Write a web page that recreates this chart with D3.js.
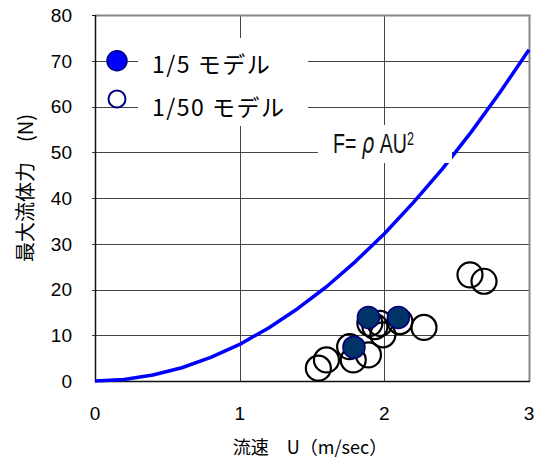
<!DOCTYPE html>
<html>
<head>
<meta charset="utf-8">
<script src="https://cdn.jsdelivr.net/npm/d3@7"></script>
<style>
  body { margin: 0; background: #fff; }
  svg { display: block; }
  text { white-space: pre; }
</style>
</head>
<body>
<div id="chart"></div>
<script>
// Data
const curveU = [0, 0.2, 0.4, 0.6, 0.8, 1.0, 1.2, 1.4, 1.6, 1.8, 2.0, 2.2, 2.4, 2.6, 2.8, 3.0];
const curveF = [0, 0.32, 1.3, 2.9, 5.15, 8.0, 11.6, 15.8, 20.6, 26.1, 32.2, 39.0, 46.3, 54.4, 63.1, 72.4];

const model50U = [1.544, 1.60, 1.785, 1.89, 1.76, 1.99, 1.935, 1.97, 1.90, 2.108, 2.274, 2.592, 2.689];
const model50F = [2.8, 4.6, 4.6, 5.7, 7.5, 10.1, 11.9, 12.6, 12.6, 13.0, 11.7, 23.2, 21.8];

const model5U = [1.79, 1.89, 2.097];
const model5F = [7.4, 13.9, 13.9];

const xTicks = [0, 1, 2, 3];
const yTicks = [0, 10, 20, 30, 40, 50, 60, 70, 80];
const legendLabels = ['1/5 モデル', '1/50 モデル'];

// Layout
const width = 542;
const height = 461;
const plotLeft = 95, plotRight = 529, plotTop = 15, plotBottom = 381;
const jpFont = '"Noto Sans CJK JP", sans-serif';
const numFont = '"Liberation Sans", Arial, sans-serif';

const x = d3.scaleLinear().domain([0, 3]).range([plotLeft, plotRight]);
const y = d3.scaleLinear().domain([0, 80]).range([plotBottom, plotTop]);

const svg = d3.select('#chart').append('svg')
  .attr('width', width)
  .attr('height', height);

// Grid
const grid = svg.append('g')
  .attr('stroke', '#444')
  .attr('stroke-width', 1);
yTicks.filter(d => d > 0 && d < 80).forEach(d => {
  grid.append('line')
    .attr('x1', plotLeft - 3).attr('x2', plotRight)
    .attr('y1', Math.round(y(d)) + 0.5).attr('y2', Math.round(y(d)) + 0.5);
});
xTicks.filter(d => d > 0 && d < 3).forEach(d => {
  grid.append('line')
    .attr('x1', Math.round(x(d)) + 0.5).attr('x2', Math.round(x(d)) + 0.5)
    .attr('y1', plotTop).attr('y2', plotBottom);
});

// Frame: gray top/right, black left/bottom
svg.append('path')
  .attr('d', `M${plotLeft},${plotTop + 0.5} H${plotRight + 0.5} V${plotBottom}`)
  .attr('fill', 'none')
  .attr('stroke', '#888')
  .attr('stroke-width', 2);
svg.append('path')
  .attr('d', `M${plotLeft + 0.5},${plotTop} V${plotBottom + 0.5} H${plotRight + 1}`)
  .attr('fill', 'none')
  .attr('stroke', '#111')
  .attr('stroke-width', 1.5);
svg.append('line')
  .attr('x1', plotLeft - 3).attr('x2', plotLeft)
  .attr('y1', plotTop + 0.5).attr('y2', plotTop + 0.5)
  .attr('stroke', '#111');

// Curve
const line = d3.line()
  .x((d, i) => x(curveU[i]))
  .y(d => y(d));
svg.append('path')
  .datum(curveF)
  .attr('d', line)
  .attr('fill', 'none')
  .attr('stroke', '#0000ff')
  .attr('stroke-width', 3.5)
  .attr('stroke-linejoin', 'round');

// Formula label box
svg.append('rect')
  .attr('x', 318).attr('y', 125)
  .attr('width', 134).attr('height', 38)
  .attr('fill', '#fff');
const formula = svg.append('g')
  .attr('transform', 'translate(333,153) scale(0.7,1)');
const ft = formula.append('text')
  .attr('font-family', '"Liberation Sans", Arial, sans-serif')
  .attr('font-size', 28)
  .attr('fill', '#111');
ft.append('tspan').text('F= ');
ft.append('tspan').attr('font-family', '"DejaVu Sans", sans-serif').attr('font-style', 'italic').text('ρ');
ft.append('tspan').text(' AU');
ft.append('tspan').attr('font-size', 18).attr('dy', -8).text('2');

// Legend box
svg.append('rect')
  .attr('x', 138).attr('y', 38)
  .attr('width', 170).attr('height', 88)
  .attr('fill', '#fff');

// Points
svg.append('g')
  .selectAll('circle')
  .data(model50U)
  .join('circle')
  .attr('cx', d => x(d))
  .attr('cy', (d, i) => y(model50F[i]))
  .attr('r', 12.5)
  .attr('fill', 'none')
  .attr('stroke', '#000')
  .attr('stroke-width', 2.2);

svg.append('g')
  .selectAll('circle')
  .data(model5U)
  .join('circle')
  .attr('cx', d => x(d))
  .attr('cy', (d, i) => y(model5F[i]))
  .attr('r', 11)
  .attr('fill', '#003366')
  .attr('stroke', '#000080')
  .attr('stroke-width', 1.5);

// Legend
const legend = svg.append('g');
legend.append('circle')
  .attr('cx', 117).attr('cy', y(70))
  .attr('r', 10)
  .attr('fill', '#0000ff')
  .attr('stroke', '#000080')
  .attr('stroke-width', 1.5);
legend.append('circle')
  .attr('cx', 117).attr('cy', 99)
  .attr('r', 8.5)
  .attr('fill', '#fff')
  .attr('stroke', '#000080')
  .attr('stroke-width', 2);
legend.selectAll('text')
  .data(legendLabels)
  .join('text')
  .attr('x', 152)
  .attr('y', (d, i) => 73 + i * 43)
  .attr('font-family', jpFont)
  .attr('font-size', 23)
  .attr('letter-spacing', 1.5)
  .attr('fill', '#000')
  .text(d => d);

// Tick labels
svg.append('g')
  .selectAll('text')
  .data(yTicks)
  .join('text')
  .attr('x', 72)
  .attr('y', d => y(d))
  .attr('dy', '0.36em')
  .attr('text-anchor', 'end')
  .attr('font-family', numFont)
  .attr('font-size', 19)
  .attr('fill', '#000')
  .text(d => d);

svg.append('g')
  .selectAll('text')
  .data(xTicks)
  .join('text')
  .attr('x', d => x(d))
  .attr('y', 413)
  .attr('dy', '0.36em')
  .attr('text-anchor', 'middle')
  .attr('font-family', numFont)
  .attr('font-size', 19)
  .attr('fill', '#000')
  .text(d => d);

// Axis titles
svg.append('text')
  .attr('x', 310)
  .attr('y', 454)
  .attr('text-anchor', 'middle')
  .attr('font-family', jpFont)
  .attr('font-size', 18)
  .attr('fill', '#000')
  .text('流速　U（m/sec）');

svg.append('text')
  .attr('transform', 'translate(33,188) rotate(-90)')
  .attr('text-anchor', 'middle')
  .attr('font-family', jpFont)
  .attr('font-size', 20)
  .attr('fill', '#000')
  .text('最大流体力　(N)');
</script>
</body>
</html>
